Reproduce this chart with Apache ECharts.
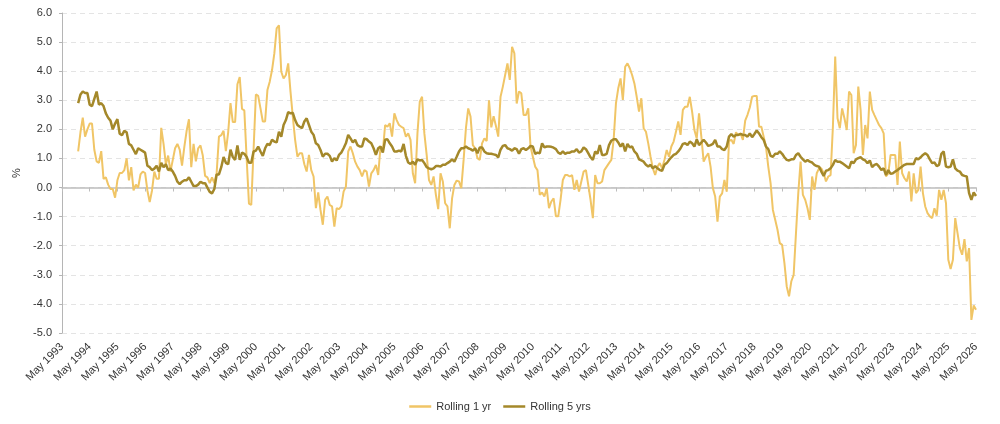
<!DOCTYPE html>
<html>
<head>
<meta charset="utf-8">
<script src="https://cdn.jsdelivr.net/npm/echarts@6/dist/echarts.min.js"></script>
<style>
  html, body { margin: 0; padding: 0; background: #fff; }
  #chart { width: 1000px; height: 424px; }
</style>
</head>
<body>
<div id="chart"></div>
<script>
// axis: monthly categories, a label every May
var monthNames = ["Jan","Feb","Mar","Apr","May","Jun","Jul","Aug","Sep","Oct","Nov","Dec"];
var firstYear = 1993, firstMonth = 4;   // May 1993
var lastYear = 2026, lastMonth = 4;     // May 2026
var yTicks = [-5, -4, -3, -2, -1, 0, 1, 2, 3, 4, 5, 6];

// Rolling 1 yr, monthly from Dec 1993
var rolling1yr = [
  1.24, 1.9, 2.4, 1.75, 2.0, 2.2, 2.2, 1.3, 0.9, 0.85, 1.25, 0.3,
  0.35, 0.1, -0.05, -0.05, -0.35, 0.25, 0.5, 0.5, 0.6, 1.0, 0.25, 0.7,
  -0.1, 0.1, 0.0, 0.45, 0.55, 0.5, -0.1, -0.5, -0.1, 0.55, 0.3, 0.3,
  2.05, 1.5, 0.8, 1.1, 0.55, 0.95, 1.35, 1.5, 1.3, 0.75, 1.4, 1.95,
  2.35, 0.7, 1.5, 0.9, 1.35, 1.45, 1.1, 0.4, 0.35, 0.15, 0.35, 0.15,
  0.5, 1.75, 1.8, 1.95, 1.25, 1.9, 2.9, 2.25, 2.25, 3.55, 3.8, 2.7,
  2.65, 1.0, -0.55, -0.6, 1.3, 3.2, 3.15, 2.72, 2.27, 2.27, 3.35, 3.64,
  4.04, 4.61, 5.47, 5.58, 3.98, 3.75, 3.87, 4.27, 3.3, 2.44, 1.64, 1.06,
  1.18, 1.18, 0.8, 0.55, 1.12, 0.6, 0.38, -0.71, -0.17, -0.77, -1.28, -0.42,
  -0.31, -0.6, -0.65, -1.34, -0.71, -0.74, -0.65, -0.14, 0.03, 1.24, 1.41, 1.18,
  0.89, 0.72, 0.6, 0.38, 0.6, 0.55, 0.03, 0.49, 0.6, 0.78, 0.43, 1.41,
  1.24, 2.15, 2.09, 2.21, 1.75, 2.55, 2.32, 2.15, 2.09, 2.04, 1.75, 1.86,
  1.64, 0.49, 0.15, 1.86, 2.95, 3.12, 1.86, 1.12, 0.26, 0.09, 0.38, -0.25,
  -0.74, 0.49, 0.21, -0.54, -0.65, -1.4, -0.37, 0.09, 0.24, 0.21, -0.02, 0.95,
  2.04, 2.72, 2.44, 1.46, 1.35, 1.01, 0.95, 1.52, 1.69, 1.6, 3.0, 2.07,
  2.45, 2.12, 1.75, 3.12, 3.47, 3.87, 4.27, 3.7, 4.84, 4.61, 2.89, 3.3,
  3.24, 2.49, 2.49, 2.72, 1.41, 1.06, 0.72, 0.6, -0.25, -0.17, -0.31, -0.02,
  -0.71, -0.48, -0.37, -0.99, -0.99, -0.42, 0.26, 0.43, 0.43, 0.38, 0.43, -0.08,
  0.26, -0.14, 0.21, 0.55, 0.6, 0.09, -0.42, -1.05, 0.43, 0.15, 0.15, 0.21,
  0.6, 0.72, 0.84, 0.95, 1.64, 2.89, 3.41, 3.75, 3.01, 4.15, 4.27, 4.1,
  3.87, 3.58, 3.12, 2.61, 3.07, 2.04, 1.92, 1.52, 1.06, 0.66, 0.43, 0.72,
  0.84, 0.66, 0.95, 1.29, 1.06, 1.41, 1.58, 1.92, 2.27, 1.81, 2.67, 2.78,
  2.78, 3.12, 2.61, 1.98, 1.69, 2.55, 1.75, 0.89, 1.06, 1.18, 0.72, -0.02,
  -0.31, -1.17, -0.31, -0.2, 0.26, -0.14, 1.6, 1.64, 1.5, 1.9, 1.8, 1.86,
  1.64, 2.3, 2.5, 2.75, 3.12, 3.15, 3.15, 2.09, 2.09, 1.75, 1.41, 0.72,
  0.15, -0.77, -1.11, -1.45, -1.91, -1.97, -2.6, -3.4, -3.74, -3.22, -3.0, -1.57,
  -0.19, 0.89, -0.25, -0.42, -0.71, -1.11, 0.38, -0.08, 0.49, 0.66, 0.66, 0.49,
  0.21, 0.38, 0.43, 2.09, 4.5, 2.38, 2.04, 2.72, 2.38, 1.98, 3.3, 3.18,
  1.18, 1.46, 3.47, 2.67, 1.12, 2.15, 1.69, 3.3, 2.67, 2.49, 2.32, 2.15,
  2.04, 1.86, 0.38, 0.49, 1.12, 1.12, 1.12, 0.09, 1.58, 0.49, 0.32, 0.21,
  0.55, -0.48, 0.49, -0.19, -0.08, 0.72, -0.19, -0.65, -0.88, -0.99, -1.05, -0.71,
  -0.97, -0.08, -0.42, -0.08, -0.54, -2.48, -2.8, -2.48, -1.05, -1.57, -2.08, -2.31,
  -1.77, -2.54, -2.08, -4.55, -4.05, -4.2
];

// Rolling 5 yrs, monthly from Dec 1993
var rolling5yrs = [
  2.9, 3.2, 3.3, 3.25, 3.25, 2.85, 2.8, 3.05, 3.3, 2.85, 2.9, 2.8,
  2.55, 2.4, 2.3, 2.0, 2.2, 2.35, 1.85, 1.8, 1.95, 1.9, 1.5, 1.45,
  1.3, 1.15, 1.35, 1.3, 1.25, 1.2, 0.75, 0.7, 0.6, 0.65, 0.75, 0.55,
  0.85, 0.7, 0.8, 0.6, 0.65, 0.55, 0.4, 0.2, 0.12, 0.2, 0.25, 0.25,
  0.35, 0.2, 0.05, 0.05, 0.1, 0.2, 0.15, 0.15, 0.0, -0.15, -0.2, -0.05,
  0.45, 0.45, 0.7, 1.05, 0.85, 0.8, 1.3, 1.05, 0.95, 1.45, 0.95, 1.2,
  1.16, 1.05, 0.85, 0.85, 1.24, 1.27, 1.41, 1.24, 1.09, 1.35, 1.5, 1.46,
  1.64, 1.58, 1.55, 1.92, 1.75, 2.15, 2.32, 2.59, 2.55, 2.57, 2.32, 2.15,
  2.09, 2.04, 2.27, 2.38, 2.15, 1.92, 1.81, 1.52, 1.46, 1.29, 1.06, 1.16,
  1.16, 1.09, 0.89, 1.01, 0.93, 1.12, 1.2, 1.35, 1.52, 1.81, 1.69, 1.55,
  1.64, 1.46, 1.41, 1.41, 1.69, 1.66, 1.58, 1.52, 1.35, 1.12, 1.35, 1.41,
  1.2, 1.64, 1.66, 1.52, 1.41, 1.24, 1.24, 1.27, 1.24, 1.5, 1.09, 0.86,
  0.81, 0.89, 0.78, 0.97, 0.93, 0.95, 0.84, 0.7, 0.66, 0.63, 0.66, 0.74,
  0.74, 0.72, 0.78, 0.78, 0.84, 0.89, 0.97, 0.89, 1.06, 1.24, 1.35, 1.35,
  1.41, 1.35, 1.32, 1.27, 1.35, 1.18, 1.38, 1.38, 1.24, 1.18, 1.16, 1.16,
  1.14, 1.12, 1.04, 1.3, 1.43, 1.46, 1.35, 1.32, 1.27, 1.35, 1.32, 1.16,
  1.32, 1.35, 1.29, 1.35, 1.43, 1.41, 1.16, 1.2, 1.18, 1.52, 1.38, 1.41,
  1.41, 1.4, 1.37, 1.32, 1.2, 1.16, 1.24, 1.16, 1.2, 1.2, 1.24, 1.24,
  1.32, 1.2, 1.24, 1.38, 1.32, 1.18, 1.04, 0.95, 1.24, 1.16, 1.46, 1.12,
  1.12, 1.16, 1.46, 1.61, 1.66, 1.66, 1.55, 1.41, 1.52, 1.24, 1.5, 1.38,
  1.41, 1.24, 1.16, 0.97, 0.93, 0.89, 0.78, 0.72, 0.78, 0.66, 0.74, 0.66,
  0.6, 0.58, 0.78, 0.84, 0.95, 1.04, 1.12, 1.16, 1.24, 1.35, 1.5, 1.52,
  1.46, 1.58, 1.52, 1.41, 1.66, 1.46, 1.55, 1.64, 1.55, 1.43, 1.46, 1.5,
  1.64, 1.41, 1.41, 1.32, 1.29, 1.41, 1.75, 1.84, 1.75, 1.81, 1.81, 1.84,
  1.81, 1.81, 1.75, 1.86, 1.73, 1.84, 1.96, 1.86, 1.73, 1.64, 1.41, 1.32,
  1.09, 1.06, 1.16, 1.16, 1.24, 1.16, 1.04, 0.95, 0.93, 0.97, 0.97, 1.12,
  1.18, 1.06, 0.97, 0.89, 0.95, 0.89, 0.86, 0.78, 0.74, 0.72, 0.55, 0.4,
  0.58, 0.6, 0.66, 0.78, 0.95, 0.89, 0.89, 0.84, 0.78, 0.72, 0.66, 0.89,
  0.84, 0.97, 1.01, 1.04, 0.97, 0.93, 0.84, 0.93, 0.7, 0.78, 0.81, 0.72,
  0.6, 0.66, 0.43, 0.6, 0.47, 0.49, 0.55, 0.6, 0.66, 0.72, 0.78, 0.81,
  0.81, 0.81, 0.81, 1.01, 0.97, 1.04, 1.12, 1.18, 1.12, 0.97, 0.84, 0.86,
  0.74, 0.78, 1.16, 1.24, 0.72, 0.7, 0.72, 0.97, 0.66, 0.58, 0.55, 0.43,
  0.4, 0.38, -0.19, -0.42, -0.17, -0.29
];

var seriesNames = ["Rolling 1 yr", "Rolling 5 yrs"];
var seriesColors = ["#F0C566", "#A4882A"];

// month labels
var categories = [];
for (var y = firstYear, m = firstMonth; y < lastYear || (y === lastYear && m <= lastMonth); ) {
    categories.push(monthNames[m] + " " + y);
    m++;
    if (m > 11) { m = 0; y++; }
}

// pad front so the series end at the last month
function alignToEnd(values) {
    var out = [];
    var pad = categories.length - values.length;
    for (var i = 0; i < pad; i++) out.push(null);
    return out.concat(values);
}

var textColor = "#333";
var fontFamily = "'Liberation Sans', Arial, sans-serif";

var chart = echarts.init(document.getElementById("chart"), null, { renderer: "canvas" });

chart.setOption({
    animation: false,
    textStyle: { fontFamily: fontFamily },
    grid: { left: 62, right: 24, top: 13, bottom: 91, containLabel: false },
    legend: {
        data: seriesNames,
        top: 396,
        left: "center",
        icon: "rect",
        itemWidth: 22,
        itemHeight: 2.5,
        itemGap: 12,
        textStyle: { color: textColor, fontSize: 11, fontFamily: fontFamily }
    },
    xAxis: [{
        type: "category",
        data: categories,
        boundaryGap: false,
        axisLine: { show: false, onZero: false },
        axisTick: { show: false },
        axisLabel: {
            interval: 11,
            rotate: 45,
            margin: 12,
            color: textColor,
            fontSize: 11,
            fontFamily: fontFamily
        },
        splitLine: { show: false }
    }, {
        type: "category",
        data: categories,
        boundaryGap: false,
        position: "bottom",
        axisLine: { show: true, onZero: true, lineStyle: { color: "#bdbdbd", width: 1.5 } },
        axisTick: { show: true, interval: 11, length: 4, lineStyle: { color: "#bdbdbd" } },
        axisLabel: { show: false },
        splitLine: { show: false }
    }],
    yAxis: {
        type: "value",
        min: yTicks[0],
        max: yTicks[yTicks.length - 1],
        interval: 1,
        name: "%",
        nameLocation: "middle",
        nameRotate: 90,
        nameGap: 36,
        nameTextStyle: { color: textColor, fontSize: 11, fontFamily: fontFamily },
        axisLine: { show: true, lineStyle: { color: "#b5b5b5" } },
        axisTick: { show: true, length: 3, lineStyle: { color: "#b5b5b5" } },
        axisLabel: {
            color: textColor,
            fontSize: 11,
            margin: 10,
            formatter: function (v) { return v.toFixed(1); }
        },
        splitLine: { show: true, lineStyle: { color: "#e4e4e4", type: [5, 4] } }
    },
    series: [{
        name: seriesNames[0],
        type: "line",
        xAxisIndex: 0,
        data: alignToEnd(rolling1yr),
        showSymbol: false,
        connectNulls: false,
        lineStyle: { color: seriesColors[0], width: 2 },
        itemStyle: { color: seriesColors[0] },
        z: 2
    }, {
        name: seriesNames[1],
        type: "line",
        xAxisIndex: 0,
        data: alignToEnd(rolling5yrs),
        showSymbol: false,
        lineStyle: { color: seriesColors[1], width: 2.5 },
        itemStyle: { color: seriesColors[1] },
        z: 3
    }]
});
</script>
</body>
</html>
